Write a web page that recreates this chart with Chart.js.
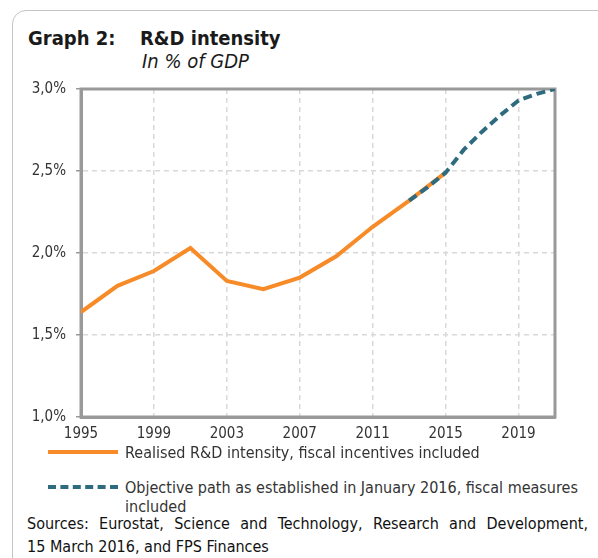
<!DOCTYPE html>
<html>
<head>
<meta charset="utf-8">
<script src="https://cdn.jsdelivr.net/npm/chart.js@4.4.1/dist/chart.umd.min.js"></script>
<style>
  html, body { margin: 0; padding: 0; background: #fff; overflow: hidden; }
  body { width: 598px; height: 558px; position: relative; font-family: "DejaVu Sans Condensed", "DejaVu Sans", sans-serif; color: #1a1a1a; }
  #card { position: absolute; left: 12px; top: 10px; width: 700px; height: 700px; border: 1px solid #c4c4c4; border-radius: 14px; }
  .title { position: absolute; top: 26px; font-size: 20px; font-weight: bold; white-space: nowrap; }
  #sub { position: absolute; left: 142px; top: 49px; font-size: 20px; font-style: italic; white-space: nowrap; }
  #wrap { position: absolute; left: 0; top: 70px; width: 598px; height: 375px; }
  .leg { position: absolute; left: 48px; font-size: 16px; color: #333; line-height: 19px; }
  .leg .sw { position: absolute; left: 0; width: 70px; height: 0; }
  .leg .tx { position: absolute; left: 77px; white-space: nowrap; }
  #src { position: absolute; left: 27px; top: 512px; width: 561px; font-size: 16px; line-height: 23px; color: #111; }
  #src .l1 { text-align: justify; text-align-last: justify; }
</style>
</head>
<body>
<div id="card"></div>
<div class="title" style="left:28px">Graph 2:</div>
<div class="title" style="left:140px">R&amp;D intensity</div>
<div id="sub">In % of GDP</div>
<div id="wrap"><canvas id="c"></canvas></div>

<div class="leg" style="top:443px">
  <div class="sw" style="top:7px;border-top:4px solid #F68B28"></div>
  <div class="tx" style="top:0">Realised R&amp;D intensity, fiscal incentives included</div>
</div>
<div class="leg" style="top:478px">
  <div class="sw" style="top:7px;border-top:4px dashed #2E6B7E"></div>
  <div class="tx" style="top:0">Objective path as established in January 2016, fiscal measures<br>included</div>
</div>

<div id="src">
  <div class="l1">Sources: Eurostat, Science and Technology, Research and Development,</div>
  <div>15 March 2016, and FPS Finances</div>
</div>

<script>
const realisedYears = [1995, 1997, 1999, 2001, 2003, 2005, 2007, 2009, 2011, 2013, 2015];
const realisedValues = [1.64, 1.80, 1.89, 2.03, 1.83, 1.78, 1.85, 1.98, 2.16, 2.32, 2.49];
const objectiveYears = [2013, 2014, 2015, 2016, 2017, 2018, 2019, 2020, 2021];
const objectiveValues = [2.32, 2.40, 2.49, 2.63, 2.74, 2.84, 2.93, 2.97, 3.00];
const xTickYears = [1995, 1999, 2003, 2007, 2011, 2015, 2019];

const font = { family: "'DejaVu Sans Condensed', 'DejaVu Sans', sans-serif", size: 15 };

// solid grey frame round the plot area
const frame = {
  id: "frame",
  beforeDatasetsDraw(chart) {
    const a = chart.chartArea, ctx = chart.ctx;
    ctx.save();
    ctx.strokeStyle = "#999";
    ctx.lineWidth = 3;
    ctx.strokeRect(a.left, a.top, a.right - a.left, a.bottom - a.top);
    ctx.restore();
  }
};

new Chart(document.getElementById("c"), {
  type: "line",
  data: {
    datasets: [
      {
        label: "Realised R&D intensity, fiscal incentives included",
        data: realisedYears.map((y, i) => ({ x: y, y: realisedValues[i] })),
        borderColor: "#F68B28",
        borderWidth: 4,
        pointRadius: 0,
        tension: 0,
        order: 2
      },
      {
        label: "Objective path as established in January 2016, fiscal measures included",
        data: objectiveYears.map((y, i) => ({ x: y, y: objectiveValues[i] })),
        borderColor: "#2E6B7E",
        borderWidth: 4,
        borderDash: [9, 5],
        pointRadius: 0,
        tension: 0,
        order: 1
      }
    ]
  },
  options: {
    responsive: true,
    maintainAspectRatio: false,
    animation: false,
    layout: { padding: { top: 17, right: 43, left: 0, bottom: 0 } },
    plugins: { legend: { display: false }, tooltip: { enabled: false } },
    scales: {
      x: {
        type: "linear",
        min: 1995,
        max: 2021,
        afterBuildTicks: s => { s.ticks = xTickYears.map(v => ({ value: v })); },
        afterFit: s => { s.height = 28; },
        grid: { color: "#d9d9d9", lineWidth: 1.5, drawTicks: false },
        border: { color: "#999", width: 3, dash: [5, 4] },
        ticks: { font, color: "#333", padding: 8, maxRotation: 0, autoSkip: false, callback: v => String(v) }
      },
      y: {
        min: 1.0,
        max: 3.0,
        afterFit: s => { s.width = 81; },
        grid: { color: "#d9d9d9", lineWidth: 1.5, tickLength: 5, tickColor: "#999" },
        border: { color: "#999", width: 3, dash: [5, 4] },
        ticks: { font, color: "#333", padding: 10, stepSize: 0.5,
          callback: v => v.toFixed(1).replace(".", ",") + "%" }
      }
    }
  },
  plugins: [frame]
});
</script>
</body>
</html>
